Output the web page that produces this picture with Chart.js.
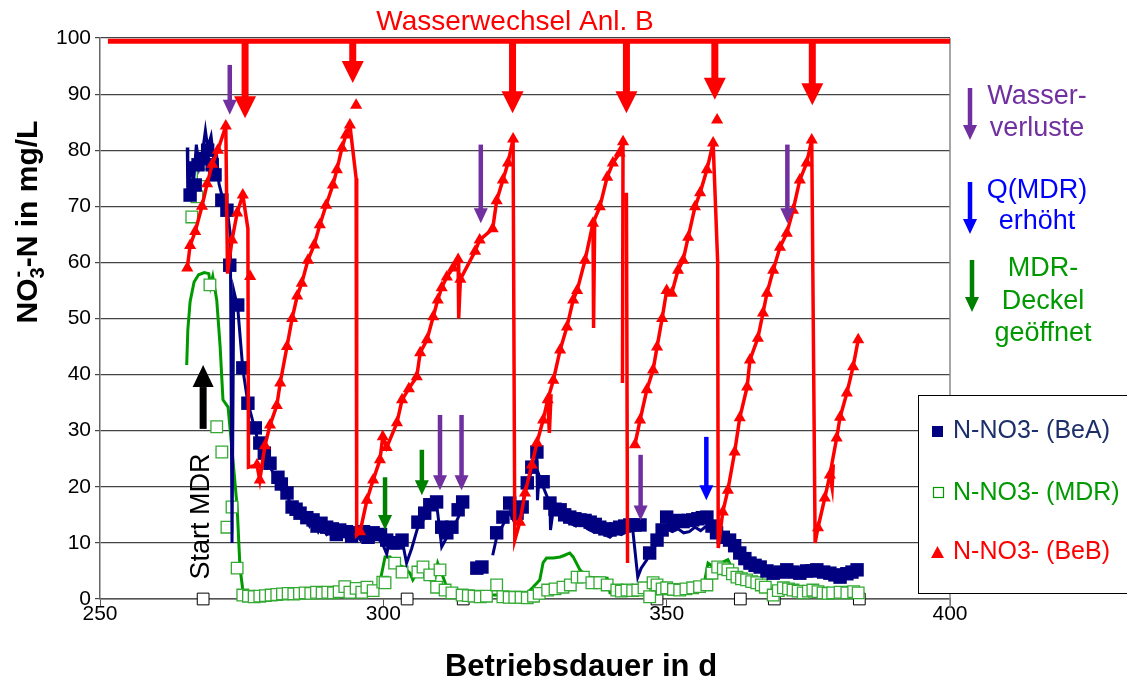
<!DOCTYPE html>
<html>
<head>
<meta charset="utf-8">
<script src="https://cdn.jsdelivr.net/npm/chart.js@4.4.1/dist/chart.umd.min.js"></script>
<style>
  body { margin: 0; background: #fff; }
  #wrap { width: 1127px; height: 682px; }
</style>
</head>
<body>
<div id="wrap"><canvas id="chart" width="1127" height="682"></canvas></div>
<script>
"use strict";

const FONT = "'Liberation Sans', Arial, sans-serif";

// x ticks / y ticks
const xTicks = [250, 300, 350, 400];
const yTicks = [0, 10, 20, 30, 40, 50, 60, 70, 80, 90, 100];

// N-NO3- (BeB): points with markers, null = break in the line
const bebPoints = [
    [265.4,59],[265.9,63],[266.8,65.5],[268,70],[268.9,74],[269.8,77.5],[270.8,80],[272.2,84.3], null,
    [273.3,64],[274.2,68.8],[275.2,72], null,
    [276.5,57.5], null,
    [277.7,23.9],[278.2,21.2],[279.1,27.3],[280,31],[281.2,34.5],[281.8,38.5],[283,45],[283.9,50],[284.8,54],
    [285.6,56.3],[286.7,60.4],[287.8,63.1],[288.8,66.7],[289.9,70.2],[291.1,73.8],[291.8,76.5],[292.7,80.4],
    [293.4,82.7],[294.1,84.5], null,
    [295.2,88], null,
    [295.9,12],[297.1,17.6],[298.2,21.2],[299.4,24.8],[299.9,28.9],[300.6,27],[302.4,31.4],[303.3,35.5],
    [304.5,37.5],[305.9,39.6],[306.5,43.9],[307.7,46.2],[308.8,50.3],[309.6,53.3],[310.3,55.5],[311.2,57.4],
    [312.3,59],[313.2,60.5], null,
    [313.6,57],[316.2,62],[317,64],[319.3,66],[320,71],[321.1,74.7],[322,77.7],[322.9,82], null,
    [324.1,13.7],[325,18.9],[326.2,23.9],[327.1,27.8],[328.2,31.9],[329,35.5],[330,39],[331.2,44.4],
    [332.4,48.5],[333.5,53.3],[334.2,55],[335.6,60.4],[337,67],[338.2,69.9],[339.5,75.2],[340.5,77.7],
    [341.7,79.5],[342.3,81.5], null,
    [344.4,27.5],[345.3,31.9],[346.5,37.3],[347.6,40.8],[348.3,44.9],[349.2,50],[350,55],[350.9,54.5],
    [352,58.6],[352.9,60.4],[353.8,64.5],[355,69.9],[355.9,72.4],[357.1,76.5],[358.2,81.3], null,
    [358.9,85.4], null,
    [359.9,15.5],[360.8,19.4],[362,26.2],[362.9,32.3],[364.2,37.8],[364.7,42.6],[366.1,46.5],[367,51],
    [367.7,54.5],[368.8,58.6],[370,62.7],[371.2,65.2],[372.3,69.3],[373.5,74.7],[374.7,77.7],[375.6,81.8], null,
    [376.7,12.7],[377.9,18],[378.8,22.1],[380,28.7],[380.6,32.4],[381.8,36.7],[382.9,41.4],[383.8,46.2]
];
// BeB: drops and spikes (line only)
const bebDrops = [
    [272.2,84.3],[272.5,58],[273.3,64], null,
    [275.2,72],[276.1,66],[276.2,23.5],[277.7,23.9], null,
    [294.1,84.5],[295.2,75],[295.3,66.7],[295.3,11.4],[295.9,12], null,
    [313.2,60.5],[313.3,50],[313.6,57], null,
    [322.9,82],[323.2,10.5],[324.1,13.7], null,
    [329,35.5],[329.3,29.6],[329.6,36.5], null,
    [337,67],[337.1,48.3],[337.3,67.5], null,
    [342.3,81.5],[342.2,38.5], null,
    [342.9,72.4],[343.1,6.4], null,
    [358.2,81.3],[359,60],[359.1,9.1],[359.9,15.5], null,
    [375.6,81.8],[376.2,10],[376.7,12.7], null,
    [378.8,22.1],[379.2,19.8],[379.4,24]
];

// N-NO3- (BeA): square markers and the measured line
const beaPoints = [
    [265.9,72],[266.8,73.8],[267.3,77.4],[268.2,78.5],[269,80],[269.8,77.4],[270.3,75.6],[271.5,71.1],
    [272.4,69.3],[272.9,59.5],[274.3,52.4],[275.2,41.2],[276.1,34.9],[277.4,30.5],[278.2,27.8],[279,26],
    [280,24.2],[281.4,21.7],[282,20.5],[283,18.9],[283.9,16.4],[284.6,16],[285.3,15.3],[286.5,14.5],
    [287.6,14.1],[288.3,13],[289,13.5],[290,12.8],[291,12.5],[291.7,11.5],[292.3,12.3],[293.5,12],
    [294.4,11.2],[295.3,11.8],[296.5,12],[297.3,11],[298.2,11.8],[299.5,11.5],[300.6,10.5],[301.7,10],
    [302.4,10],[303.3,10.5],[306.1,13.7],[307.3,15.3],[308.2,16.8],[309.4,17.3],[310.3,12.8],[311.2,11.8],
    [312.1,12.8],[313.2,15.9],[314,17.3],[316.5,5.5],[317.4,5.7],[320,11.8],[321.1,14.6],[322.3,17.1],
    [323.6,15.3],[324.5,16.4],[325.4,20.7],[326.2,23.5],[327.1,26.2],[328.2,20.9],[329.4,17.1],[330.3,16],
    [331.2,15.9],[332,15],[332.9,14.6],[333.8,14.3],[334.7,14.1],[335.6,14],[336.5,13.7],[337.4,13.3],
    [338.2,12.8],[339.1,12.5],[340,12.3],[341,12.5],[341.7,12.8],[342.6,13],[343.5,13.2],[344.4,13.2],
    [345.3,13.2],[347,8.2],[348.3,10.5],[349.2,12.3],[350,14.6],[351.1,13.5],[352,14],[352.9,13.8],
    [353.8,14],[354.6,14.1],[355.5,14.3],[356.3,14.5],[357.1,14.6],[358,13],[358.8,11.8],[360,11],
    [361.1,10.5],[362,9.5],[362.9,8.2],[363.8,7.2],[364.7,6.4],[365.6,6],[366.5,5.7],[367.7,5],
    [368.8,4.6],[370,4.8],[371.2,5.2],[372.3,4.8],[373.5,4.6],[374.7,5],[375.6,5],[376.5,5.2],
    [377.7,4.8],[378.8,4.6],[379.7,4.3],[380.6,3.9],[381.8,4.5],[382.7,4.8],[383.6,5.2]
];
const beaLine = [
    [265.4,80.5],[265.5,71],[266,78],[266.5,74],[267,81],[267.5,77],[268,79],[268.6,83.5],[269,80.5],
    [269.6,82.5],[270,79],[270.5,80],[271,74],[271.5,72],[272,71],[272.5,69],[273,65],[273.3,10],
    [273.6,55],[274.3,52],[275.2,41],[276.1,35],[277.4,30],[278.2,27],[279,25.5],[280,23.5],[281.4,21],
    [282,19.5],[283,18.5],[284,16],[285.3,14.5],[286,15],[287,13],[287.6,13.8],[288.5,12],[289,13],
    [290,11.5],[291,12.5],[292,11],[293,12],[294,10.8],[295,12],[296,10.5],[297,11.5],[298,10.2],
    [299,11],[300,9.5],[300.6,8],[301,10],[302,9.5],[302.4,10],[303,11],[303.5,9.5],[304.1,6.4],
    [305,9],[306,12.5],[307.3,14.5],[308.2,16],[309.4,17],[310.3,9.3],[311.2,11],[312.1,12],
    [313.2,14.5],[314,16.5], null,
    [319.3,7.8],[320,11],[321,13],[322.3,15.5],[323,14],[324,14.5],[325,19],[326.2,23],[327.1,25],
    [327.2,17.6],[327.5,22],[328.2,20],[329.4,17],[329.5,12.3],[330,16],[331,15],[332,14],[333,13.5],
    [334,13],[335,13.5],[336,12.5],[337,12],[338,12.5],[339,11.5],[340,11],[341,12],[342,11.5],
    [343,12],[344,12.5],[344.9,3.9],[345.5,5.5],[346.5,7],[347,8],[348.3,10],[349.2,11.5],[350,12.5],
    [351,12],[352,12.5],[353,11.8],[354,12],[355,12.8],[356,12.2],[357,13],[358,12],[359,11],
    [360,10.5],[361,10],[362,8.5],[363,7.5],[364,6.5],[365,6],[366,5.5],[367,5],[368,4.5],[369,4],
    [370,4.5],[371,4.2],[372,4.5],[373,4],[374,4.2],[375,4.8],[376,4.2],[377,4.5],[378,4],[379,3.8],
    [380,4],[381,3.5],[382,4.2],[383,4.8],[383.8,4.5]
];

// N-NO3- (MDR): open squares and the measured line
const mdrPoints = [
    [266.2,68.1],[267.1,71.7],[268.2,75.6],[269.4,56],[270.6,30.7],[271.5,26.2],[272.4,12.8],[273.3,16.4],
    [274.2,5.5],[275.2,0.7],[276.2,0.5],[277.2,0.4],[278.2,0.5],[279.2,0.6],[280.2,0.7],[281.2,0.8],
    [282.2,0.9],[283.2,1],[284.2,0.9],[285.2,1],[286.2,1.1],[287.2,1],[288.2,1.2],[289.2,1.1],
    [290.2,1.2],[291.2,1.1],[292.2,1.3],[293.2,2.2],[294.1,1.2],[295.2,1.9],[296.2,1.2],[297.1,2.1],
    [298.2,1.5],[299.9,3],[300.3,2.9],[302,6.4],[303.3,4.8],[306.1,4.8],[307,5.7],[308.2,4.3],
    [309.4,2.1],[310,5.2],[310.9,1.6],[312.1,1.1],[313.9,0.7],[315,0.6],[316,0.5],[317.1,0.4],
    [318.2,0.5],[320,2.5],[321.1,0.4],[322.2,0.3],[323.2,0.3],[324.3,0.3],[325.4,0.2],[326.5,0.5],
    [327.5,1],[329,1.6],[330.3,1.8],[331.7,2.1],[333,2.5],[334.2,3.9],[335.3,3.9],[336.8,2.9],
    [338.2,2.9],[339.5,2.5],[341.2,1.6],[342,1.4],[343,1.6],[344,1.5],[344.9,1.6],[346,2],
    [347,0.4],[347.6,2.9],[348.3,2.5],[349.2,1.8],[350,2],[351.2,1.7],[352.3,1.6],[353.4,1.8],
    [354.6,2],[355.8,2.2],[357.1,2.5],[358,4.6],[359,5.7],[360,5.4],[360.8,5.2],[361.6,4.5],
    [362.4,3.9],[363.2,3.6],[364.1,3.4],[365,3.1],[365.9,2.9],[366.7,2.5],[367.4,2.1],[368.8,0.7],
    [369.7,1.5],[370.6,2],[371.5,1.8],[372.3,1.6],[373.2,1.4],[374.1,1.1],[375,1.4],[375.8,1.6],
    [376.7,1.3],[377.6,1.1],[378.5,1],[379.3,1.1],[380.6,1.2],[381.8,1.1],[383,1.3],[383.8,1.1]
];
const mdrLine = [
    [265.3,41.7],[265.5,48],[265.9,53],[266.6,56.5],[267.4,57.8],[268.4,58.2],[269.2,58],[269.5,55.8],
    [269.9,57.5],[270.6,53.3],[271.2,45],[271.7,35.5],[272.6,34.2],[273.3,26.6],[274.2,16.4],[274.7,5.7],
    [275.2,1.6],[276,0.6],[278,0.7],[280,0.9],[282,1.1],[284,1.4],[285,1.8],[286,1.3],[288,1.4],
    [290,1.6],[292,1.5],[294,1.8],[296,1.7],[298,2],[299.3,2.5],[299.8,5],[300.3,7.5],[301.2,7.5],
    [302,6.4],[303.5,5.7],[304.7,4.6],[305.2,3.4],[306.5,5.7],[307.7,6.1],[308.2,3.9],[308.8,2.1],
    [309.6,6.4],[310.3,4.6],[311.2,2.1],[313,1.1],[315,0.8],[317,0.7],[320,0.7],[323,0.8],[325.5,1.2],
    [326.4,2.1],[327.6,3.4],[328.2,6.5],[328.8,7.3],[330,7.3],[331.2,7.5],[332,7.8],[332.9,8.2],
    [333.5,7.5],[334.7,5.2],[335.9,3.9],[337.5,3.8],[339.5,3.7],[340,1.1],[342,1],[344,0.9],
    [346.5,0.7],[348,0.9],[350,1],[352,1.1],[354.1,1.1],[356.4,1.6],[357.3,6.4],[358.2,5.7],
    [359.2,6.2],[359.9,6.6],[360.8,7],[361.7,5.2],[363,4.5],[364.7,3.9],[366,3.4],[367.7,2.9],
    [368.8,1.1],[370,1.2],[372,1.4],[374,1.2],[376,1.5],[378,1.3],[380,1.6],[381.8,2.1],[383,1.8],
    [383.8,1.5]
];

// zero values (open black squares on the axis)
const zeroPoints = [[268.2,0],[304.2,0],[314.1,0],[348.3,0],[363,0],[369,0],[384,0]];

// annotations: water change (red), water loss (purple), Q(MDR) raised (blue), lid opened (green)
const wechselX = [275.6, 294.6, 322.8, 342.9, 358.5, 375.7];
const wechselTip = [85.7, 92, 86.6, 86.6, 89, 88];
const wechselLine = [251.4, 400, 99.4];
const lossX = [272.9, 317.2, 310, 313.8, 345.4, 371.3];
const lossFrom = [95.2, 81, 32.8, 32.8, 25.7, 81];
const lossTip = [86.3, 67, 19.4, 19.4, 14, 67];
const qX = [357];
const qFrom = [28.9];
const qTip = [17.6];
const lidX = [300.3, 306.8];
const lidFrom = [21.7, 26.6];
const lidTip = [12.3, 18.5];
const startX = 268.2;
const startFrom = 30.5;
const startTip = 41.7;

function toXY(arr) {
    return arr.map(p => p === null ? {x: null, y: null} : {x: p[0], y: p[1]});
}

const RED = "#ff0000";
const NAVY = "#000080";
const GREEN = "#009900";
const PURPLE = "#7030a0";
const BLUE = "#0000ff";

function arrow(ctx, x, y1, y2, shaft, headW, headL, color) {
    // y1 = tail, y2 = tip (pixels)
    const dir = y2 > y1 ? 1 : -1;
    const base = y2 - dir * headL;
    ctx.save();
    ctx.fillStyle = color;
    ctx.fillRect(x - shaft / 2, Math.min(y1, base), shaft, Math.abs(base - y1) + 1);
    ctx.beginPath();
    ctx.moveTo(x - headW / 2, base);
    ctx.lineTo(x + headW / 2, base);
    ctx.lineTo(x, y2);
    ctx.closePath();
    ctx.fill();
    ctx.restore();
}

const annotations = {
    id: "annotations",
    afterDatasetsDraw(chart) {
        const ctx = chart.ctx;
        const xs = chart.scales.x, ys = chart.scales.y;
        const area = chart.chartArea;
        // right border
        ctx.save();
        ctx.strokeStyle = "#888";
        ctx.lineWidth = 1.5;
        ctx.beginPath();
        ctx.moveTo(area.right, area.top);
        ctx.lineTo(area.right, area.bottom + 8);
        ctx.stroke();
        ctx.restore();

        // water change line + arrows
        ctx.save();
        ctx.strokeStyle = RED;
        ctx.lineWidth = 5;
        ctx.beginPath();
        ctx.moveTo(xs.getPixelForValue(wechselLine[0]), ys.getPixelForValue(wechselLine[2]));
        ctx.lineTo(xs.getPixelForValue(wechselLine[1]), ys.getPixelForValue(wechselLine[2]));
        ctx.stroke();
        ctx.restore();
        const yTop = ys.getPixelForValue(wechselLine[2]);
        wechselX.forEach((v, i) => {
            arrow(ctx, xs.getPixelForValue(v), yTop, ys.getPixelForValue(wechselTip[i]), 7, 22, 22, RED);
        });
        lossX.forEach((v, i) => {
            arrow(ctx, xs.getPixelForValue(v), ys.getPixelForValue(lossFrom[i]), ys.getPixelForValue(lossTip[i]), 4.5, 14, 15, PURPLE);
        });
        qX.forEach((v, i) => {
            arrow(ctx, xs.getPixelForValue(v), ys.getPixelForValue(qFrom[i]), ys.getPixelForValue(qTip[i]), 4.5, 14, 15, BLUE);
        });
        lidX.forEach((v, i) => {
            arrow(ctx, xs.getPixelForValue(v), ys.getPixelForValue(lidFrom[i]), ys.getPixelForValue(lidTip[i]), 4.5, 14, 15, "#008000");
        });
        arrow(ctx, xs.getPixelForValue(startX), ys.getPixelForValue(startFrom), ys.getPixelForValue(startTip), 7, 21, 22, "#000");

        // Start MDR
        ctx.save();
        ctx.translate(xs.getPixelForValue(startX) - 2, ys.getPixelForValue(14.7));
        ctx.rotate(-Math.PI / 2);
        ctx.fillStyle = "#000";
        ctx.font = "27px " + FONT;
        ctx.textAlign = "center";
        ctx.textBaseline = "middle";
        ctx.fillText("Start MDR", 0, 0);
        ctx.restore();
    },
    afterDraw(chart) {
        const ctx = chart.ctx;
        ctx.save();
        ctx.textAlign = "center";
        ctx.textBaseline = "middle";
        ctx.fillStyle = RED;
        ctx.font = "28px " + FONT;
        ctx.fillText("Wasserwechsel Anl. B", 515, 22);

        // side notes
        ctx.font = "27px " + FONT;
        ctx.fillStyle = PURPLE;
        ctx.fillText("Wasser-", 1037, 97);
        ctx.fillText("verluste", 1037, 129);
        ctx.fillStyle = BLUE;
        ctx.fillText("Q(MDR)", 1037, 191);
        ctx.fillText("erhöht", 1037, 222);
        ctx.fillStyle = GREEN;
        ctx.fillText("MDR-", 1043, 269);
        ctx.fillText("Deckel", 1043, 302);
        ctx.fillText("geöffnet", 1043, 334);
        ctx.restore();
        arrow(ctx, 970, 88, 140, 4.5, 14, 15, PURPLE);
        arrow(ctx, 970, 182, 234, 4.5, 14, 15, BLUE);
        arrow(ctx, 972, 260, 312, 4.5, 14, 15, "#008000");

        // legend
        ctx.save();
        ctx.fillStyle = "#fff";
        ctx.strokeStyle = "#000";
        ctx.lineWidth = 1;
        ctx.fillRect(918.5, 395.5, 215, 198);
        ctx.strokeRect(918.5, 395.5, 215, 198);
        ctx.fillStyle = NAVY;
        ctx.fillRect(932, 426, 11, 11);
        ctx.strokeStyle = GREEN;
        ctx.lineWidth = 1.2;
        ctx.strokeRect(933.5, 487.5, 10, 10);
        ctx.fillStyle = RED;
        ctx.beginPath();
        ctx.moveTo(931, 558);
        ctx.lineTo(944, 558);
        ctx.lineTo(937.5, 546);
        ctx.closePath();
        ctx.fill();
        ctx.font = "25px " + FONT;
        ctx.textAlign = "left";
        ctx.textBaseline = "middle";
        ctx.fillStyle = "#1c2f6b";
        ctx.fillText("N-NO3- (BeA)", 953, 431);
        ctx.fillStyle = GREEN;
        ctx.fillText("N-NO3- (MDR)", 953, 493);
        ctx.fillStyle = RED;
        ctx.fillText("N-NO3- (BeB)", 953, 552);
        ctx.restore();

        // axis titles
        ctx.save();
        ctx.fillStyle = "#000";
        ctx.font = "bold 31px " + FONT;
        ctx.textAlign = "center";
        ctx.textBaseline = "middle";
        ctx.fillText("Betriebsdauer in d", 581, 667);
        ctx.translate(27, 222);
        ctx.rotate(-Math.PI / 2);
        ctx.textAlign = "left";
        ctx.textBaseline = "alphabetic";
        const parts = [["NO", 30, 0], ["3", 20, 7], ["-", 20, -13], ["-N in mg/L", 30, 0]];
        let total = 0;
        parts.forEach((p, i) => {
            ctx.font = "bold " + p[1] + "px " + FONT;
            if (i !== 2) total += ctx.measureText(p[0]).width;
        });
        let x = -total / 2;
        let subW = 0;
        parts.forEach((p, i) => {
            ctx.font = "bold " + p[1] + "px " + FONT;
            const w = ctx.measureText(p[0]).width;
            if (i === 2) {
                ctx.fillText(p[0], x - subW + 1, 10 + p[2]);
            } else {
                ctx.fillText(p[0], x, 10 + p[2]);
                if (i === 1) subW = w;
                x += w;
            }
        });
        ctx.restore();
    }
};

new Chart(document.getElementById("chart"), {
    type: "scatter",
    data: {
        datasets: [
            {
                label: "N-NO3- (BeB)",
                data: toXY(bebPoints),
                showLine: true,
                borderColor: RED,
                borderWidth: 3.5,
                pointStyle: "triangle",
                pointRadius: 7,
                pointBackgroundColor: RED,
                pointBorderColor: RED,
                pointBorderWidth: 0,
                clip: false
            },
            {
                label: "BeB drops",
                data: toXY(bebDrops),
                showLine: true,
                borderColor: RED,
                borderWidth: 3.5,
                pointRadius: 0,
                clip: false
            },
            {
                label: "N-NO3- (BeA)",
                data: toXY(beaPoints),
                showLine: false,
                pointStyle: "rect",
                pointRadius: 9.5,
                pointBackgroundColor: NAVY,
                pointBorderColor: NAVY,
                pointBorderWidth: 0,
                clip: false
            },
            {
                label: "BeA line",
                data: toXY(beaLine),
                showLine: true,
                borderColor: NAVY,
                borderWidth: 3,
                pointRadius: 0,
                clip: false
            },
            {
                label: "N-NO3- (MDR)",
                data: toXY(mdrPoints),
                showLine: false,
                pointStyle: "rect",
                pointRadius: 8.2,
                pointBackgroundColor: "#fff",
                pointBorderColor: "#33aa33",
                pointBorderWidth: 1.3,
                clip: false
            },
            {
                label: "MDR line",
                data: toXY(mdrLine),
                showLine: true,
                borderColor: GREEN,
                borderWidth: 3,
                pointRadius: 0,
                clip: false
            },
            {
                label: "zero",
                data: toXY(zeroPoints),
                showLine: false,
                pointStyle: "rect",
                pointRadius: 8.3,
                pointBackgroundColor: "#fff",
                pointBorderColor: "#000",
                pointBorderWidth: 1,
                clip: false
            }
        ]
    },
    options: {
        responsive: false,
        animation: false,
        layout: { padding: { top: 38, right: 177, left: 0, bottom: 0 } },
        plugins: {
            legend: { display: false },
            tooltip: { enabled: false }
        },
        scales: {
            x: {
                type: "linear",
                min: xTicks[0],
                max: xTicks[xTicks.length - 1],
                afterBuildTicks: s => { s.ticks = xTicks.map(v => ({value: v})); },
                afterFit: s => { s.height = 83; },
                grid: { drawOnChartArea: false, drawTicks: true, tickLength: 7, color: "#555" },
                border: { color: "#555", width: 1.5 },
                ticks: { color: "#000", font: { size: 21, family: FONT }, padding: -4, maxRotation: 0 }
            },
            y: {
                type: "linear",
                min: yTicks[0],
                max: yTicks[yTicks.length - 1],
                afterBuildTicks: s => { s.ticks = yTicks.map(v => ({value: v})); },
                afterFit: s => { s.width = 100; },
                grid: { color: "#444", lineWidth: 1.2, tickLength: 5 },
                border: { color: "#666", width: 1.5 },
                ticks: { color: "#000", font: { size: 21, family: FONT }, padding: 4 }
            }
        }
    },
    plugins: [annotations]
});
</script>
</body>
</html>
